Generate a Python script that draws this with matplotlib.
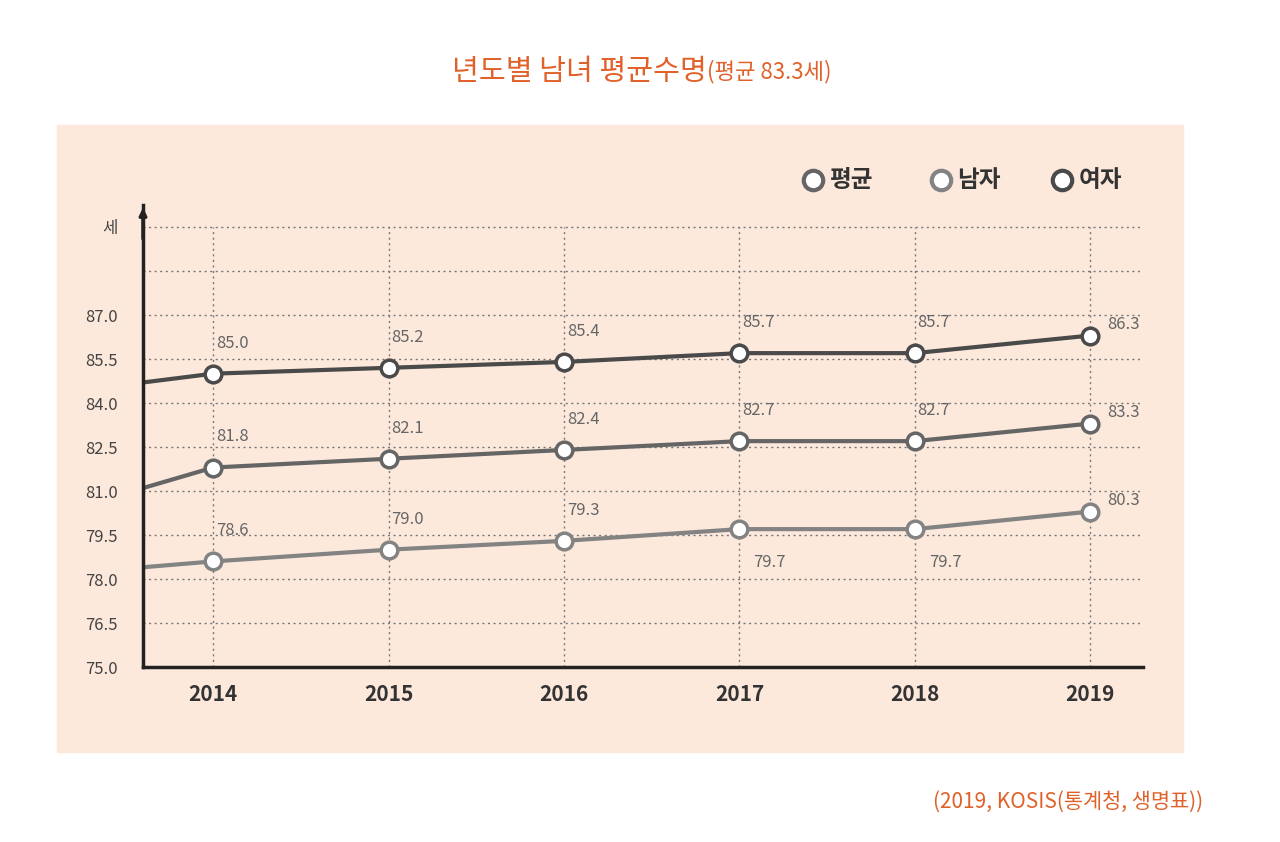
import matplotlib.pyplot as plt
from matplotlib.patches import Rectangle

plt.rcParams['font.family'] = ['Noto Sans CJK KR', 'DejaVu Sans']

years = [2014, 2015, 2016, 2017, 2018, 2019]
women = [85.0, 85.2, 85.4, 85.7, 85.7, 86.3]
avg = [81.8, 82.1, 82.4, 82.7, 82.7, 83.3]
men = [78.6, 79.0, 79.3, 79.7, 79.7, 80.3]
# values where the lines meet the left axis
start_x = 2013.6
start_vals = [84.7, 81.1, 78.4]
yticks = [75.0, 76.5, 78.0, 79.5, 81.0, 82.5, 84.0, 85.5, 87.0]

fig = plt.figure(figsize=(12.8, 8.42), dpi=100)
fig.patches.append(Rectangle((57/1280, 1-752/842), 1126/1280, 627/842,
                             transform=fig.transFigure, color='#fde9dc', zorder=-5))
ax = fig.add_axes([143/1280, 1-667/842, 1000/1280, 462/842])
ax.set_facecolor('none')
ax.set_xlim(start_x, 2019.3)
ax.set_ylim(75, 90.75)

for v in yticks[1:] + [88.5, 90.0]:
    ax.axhline(v, color='#777777', lw=1, ls=(0, (1.5, 2.5)), zorder=1)
for x in years:
    ax.plot([x, x], [75, 90.0], color='#777777', lw=1, ls=(0, (1.5, 2.5)), zorder=1)

series = [(women, '#4a4a4a', start_vals[0]), (avg, '#656565', start_vals[1]), (men, '#838383', start_vals[2])]
for vals, col, s in series:
    ax.plot([start_x] + years, [s] + vals, color=col, lw=3, zorder=2)
    ax.plot(years, vals, 'o', ms=12, mfc='white', mec=col, mew=2.5, zorder=3)

for i, x in enumerate(years):
    for vals, col, s in series:
        if i == 5:
            off = (12, 8)
        elif vals is men and i in (3, 4):
            off = (10, -24)
        else:
            off = (2, 22)
        ax.annotate(f'{vals[i]:.1f}', (x, vals[i]), xytext=off, textcoords='offset points',
                    fontsize=12, color='#666666', va='center', ha='left')

ax.set_xticks(years)
ax.set_xticklabels([str(y) for y in years], fontsize=15, fontweight='bold', color='#333333')
ax.set_yticks(yticks + [90.0])
ax.set_yticklabels([f'{v:.1f}' for v in yticks] + ['세'], fontsize=12, color='#444444')
ax.tick_params(length=0, pad=12)
ax.tick_params(axis='y', pad=18)
for sp in ['top', 'right']:
    ax.spines[sp].set_visible(False)
for sp in ['left', 'bottom']:
    ax.spines[sp].set_color('#222222')
    ax.spines[sp].set_linewidth(2.5)
ax.annotate('', xy=(start_x, 90.75), xytext=(start_x, 89.5),
            arrowprops=dict(arrowstyle='-|>', color='#222222', lw=2.5), annotation_clip=False)

# legend
for lx, name, col in [(0.635, '평균', '#656565'), (0.735, '남자', '#838383'), (0.830, '여자', '#4a4a4a')]:
    fig.lines.append(plt.Line2D([lx], [1-180/842], marker='o', ms=14, mfc='white', mec=col, mew=3,
                                transform=fig.transFigure))
    fig.text(lx + 0.013, 1-180/842, name, fontsize=17, fontweight='bold', color='#333333', va='center')

fig.text(0.552, 1-72/842, '년도별 남녀 평균수명', fontsize=21, color='#e0622a', ha='right', va='center')
fig.text(0.552, 1-72/842, '(평균 83.3세)', fontsize=16, color='#e0622a', ha='left', va='center')
fig.text(0.94, 1-802/842, '(2019, KOSIS(통계청, 생명표))', fontsize=15, color='#e0622a', ha='right', va='center')

fig.savefig('out.png', dpi=100)
